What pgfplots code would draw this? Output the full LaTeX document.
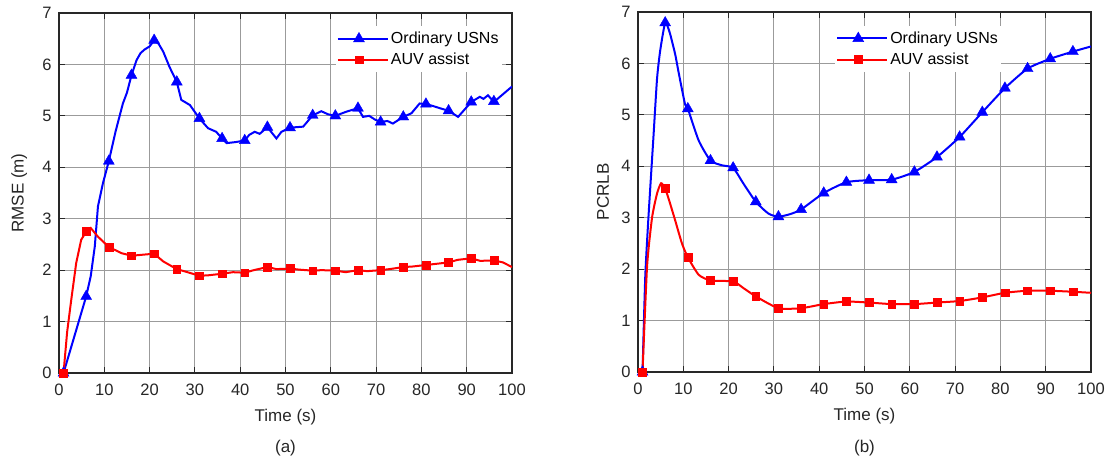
\documentclass[border=0pt]{standalone}
\usepackage{fontspec}
\setmainfont{Liberation Sans}
\usepackage{pgfplots}
\pgfplotsset{compat=1.18}
\definecolor{gridc}{RGB}{155,155,155}
\definecolor{framec}{RGB}{40,40,40}
\pgfplotsset{
  myax/.style={
    scale only axis, width=453pt, height=360pt,
    xmin=0, xmax=100, ymin=0, ymax=7,
    xtick={0,10,...,100}, ytick={0,1,...,7},
    grid=major, major grid style={gridc, line width=0.9pt},
    axis line style={framec, line width=1.4pt},
    tick align=inside, tick pos=both,
    major tick length=6pt, tick style={framec, line width=1pt},
    /pgf/number format/assume math mode=true,
    ticklabel style={font=\fontsize{16.5}{19}\selectfont, text=black!85},
    xticklabel style={yshift=-7pt},
    yticklabel style={xshift=-4pt},
    label style={font=\fontsize{17}{20}\selectfont, text=black!85},
    xlabel style={at={(axis description cs:0.5,-0.122)}, anchor=center},
    legend cell align=left,
    legend style={draw=none, fill=white, font=\fontsize{16}{19}\selectfont,
      inner xsep=1pt, inner ysep=4pt, row sep=4pt, anchor=north west},
    legend image code/.code={\path (0pt,0pt) -- (50pt,0pt); \draw[mark repeat=2,mark phase=2,#1] plot coordinates {(0pt,0pt) (21pt,0pt) (42pt,0pt)};},
  },
  bl/.style={blue, line width=2pt},
  rd/.style={red, line width=2pt},
  bm/.style={blue, only marks, mark=triangle*, mark size=6.3pt, mark options={solid, line width=0.4pt}},
  rm/.style={red, only marks, mark=square*, mark size=3.9pt, mark options={solid, line width=0.4pt}},
}
\begin{document}
\begin{tikzpicture}
\path[use as bounding box] (0,0) rectangle (1109pt,462pt);
% ---------- (a) ----------
\begin{axis}[myax, at={(59pt,89pt)}, anchor=south west,
  xlabel={Time (s)}, ylabel={RMSE (m)},
  ylabel style={at={(axis description cs:-0.088,0.5)}, anchor=center},
  legend style={at={(axis description cs:0.611,0.964)}}]
\addplot[bl, forget plot] coordinates {
(1,0) (6,1.49) (7,1.88) (7.9,2.46) (8.6,3.24) (9.7,3.69) (11,4.12) (12.5,4.7) (14.1,5.24) (15,5.45)
(16,5.79) (17.1,6.08) (18,6.22) (18.9,6.29) (20,6.35) (21,6.47) (22,6.4) (23,6.25) (24.4,5.95)
(26,5.66) (27,5.31) (28.9,5.21) (31,4.95) (32.9,4.76) (34.7,4.69) (36,4.56) (37,4.47) (39,4.49)
(41,4.52) (42,4.63) (43.2,4.69) (44.3,4.65) (46,4.78) (48,4.56) (49.1,4.69) (51,4.77) (53.9,4.79)
(56,5.01) (57.9,5.09) (59.4,5.03) (61,5.0) (63.4,5.08) (66,5.15) (67.1,4.98) (68.5,5.0) (69.7,4.93)
(71,4.88) (72.5,4.9) (73.7,4.85) (76,4.98) (77.8,5.05) (79.6,5.24) (81,5.23) (82.6,5.19) (84.4,5.14)
(86,5.1) (88.1,4.98) (91,5.27) (92.9,5.37) (93.7,5.33) (94.7,5.40) (96,5.27) (100,5.57)};
\addplot[bm, forget plot] coordinates {
(1,0) (6,1.49) (11,4.12) (16,5.79) (21,6.47) (26,5.66) (31,4.95) (36,4.56) (41,4.52) (46,4.78)
(51,4.77) (56,5.01) (61,5.0) (66,5.15) (71,4.88) (76,4.98) (81,5.23) (86,5.1) (91,5.27) (96,5.28)};
\addplot[rd, forget plot] coordinates {
(1,0) (1.8,0.8) (2.7,1.42) (3.8,2.14) (4.9,2.59) (6,2.75) (7,2.82) (8.6,2.65) (11,2.45) (13.8,2.33)
(16,2.28) (18.5,2.30) (21,2.32) (23,2.17) (26,2.02) (28,1.97) (31,1.89) (33,1.9) (36,1.93)
(38.4,1.96) (41,1.95) (43,2.0) (46,2.06) (48,2.02) (51,2.03) (53,2.01) (56,1.99) (58,2.0) (61,1.99)
(63.3,1.96) (66,2.0) (68,1.98) (71,2.0) (73,2.02) (76,2.06) (78,2.07) (81,2.1) (83,2.12) (86,2.15)
(88,2.2) (91,2.23) (93,2.18) (96,2.19) (98,2.15) (100,2.06)};
\addplot[rm, forget plot] coordinates {
(1,0) (6,2.75) (11,2.45) (16,2.28) (21,2.32) (26,2.02) (31,1.89) (36,1.93) (41,1.95) (46,2.06)
(51,2.03) (56,1.99) (61,1.99) (66,2.0) (71,2.0) (76,2.06) (81,2.1) (86,2.15) (91,2.23) (96,2.19)};
\addlegendimage{bl, mark=triangle*, mark size=6.3pt, mark options={solid, line width=0.4pt}}
\addlegendentry{Ordinary USNs}
\addlegendimage{rd, mark=square*, mark size=3.9pt, mark options={solid, line width=0.4pt}}
\addlegendentry{AUV assist}
\end{axis}
% ---------- (b) ----------
\begin{axis}[myax, at={(638pt,90pt)}, anchor=south west,
  xlabel={Time (s)}, ylabel={PCRLB},
  ylabel style={at={(axis description cs:-0.077,0.5)}, anchor=center},
  legend style={at={(axis description cs:0.435,0.962)}}]
\addplot[bl, smooth, tension=0.35, forget plot] coordinates {
(1,0) (1.6,1.85) (2.3,3.0) (3.45,4.63) (4.2,5.7) (4.9,6.25) (6,6.79) (7,6.6) (8.2,6.18) (9,5.81)
(10.4,5.2) (11,5.12) (13.4,4.5) (16,4.11) (18.5,4.02) (21,3.97) (23.3,3.66) (26,3.31) (28.8,3.08)
(31,3.02) (33.6,3.07) (36,3.16) (41,3.48) (46,3.69) (51,3.73) (56,3.74) (61,3.89) (66,4.18) (71,4.57)
(76,5.05) (81,5.52) (86,5.9) (91,6.09) (96,6.23) (100,6.33)};
\addplot[bm, forget plot] coordinates {
(1,0) (6,6.79) (11,5.12) (16,4.11) (21,3.97) (26,3.31) (31,3.02) (36,3.16) (41,3.48) (46,3.69)
(51,3.73) (56,3.74) (61,3.89) (66,4.18) (71,4.57) (76,5.05) (81,5.52) (86,5.9) (91,6.09) (96,6.23)};
\addplot[rd, smooth, tension=0.35, forget plot] coordinates {
(1,0) (2,2.05) (3.1,3.0) (4.2,3.47) (5.1,3.67) (6,3.57) (7,3.3) (8.2,2.95) (9.7,2.5) (11,2.23)
(13.4,1.89) (16,1.78) (21,1.76) (23.3,1.63) (26,1.47) (31,1.24) (36,1.24) (41,1.32) (46,1.37)
(51,1.35) (56,1.32) (61,1.32) (66,1.35) (71,1.38) (76,1.45) (81,1.54) (86,1.58) (91,1.58) (96,1.56) (100,1.54)};
\addplot[rm, forget plot] coordinates {
(1,0) (6,3.57) (11,2.23) (16,1.78) (21,1.76) (26,1.47) (31,1.24) (36,1.24) (41,1.32) (46,1.37)
(51,1.35) (56,1.32) (61,1.32) (66,1.35) (71,1.38) (76,1.45) (81,1.54) (86,1.58) (91,1.58) (96,1.56)};
\addlegendimage{bl, mark=triangle*, mark size=6.3pt, mark options={solid, line width=0.4pt}}
\addlegendentry{Ordinary USNs}
\addlegendimage{rd, mark=square*, mark size=3.9pt, mark options={solid, line width=0.4pt}}
\addlegendentry{AUV assist}
\end{axis}
\node[font=\fontsize{17}{20}\selectfont, text=black!85] at (285.5pt,14pt) {(a)};
\node[font=\fontsize{17}{20}\selectfont, text=black!85] at (864.5pt,14pt) {(b)};
\end{tikzpicture}
\end{document}
